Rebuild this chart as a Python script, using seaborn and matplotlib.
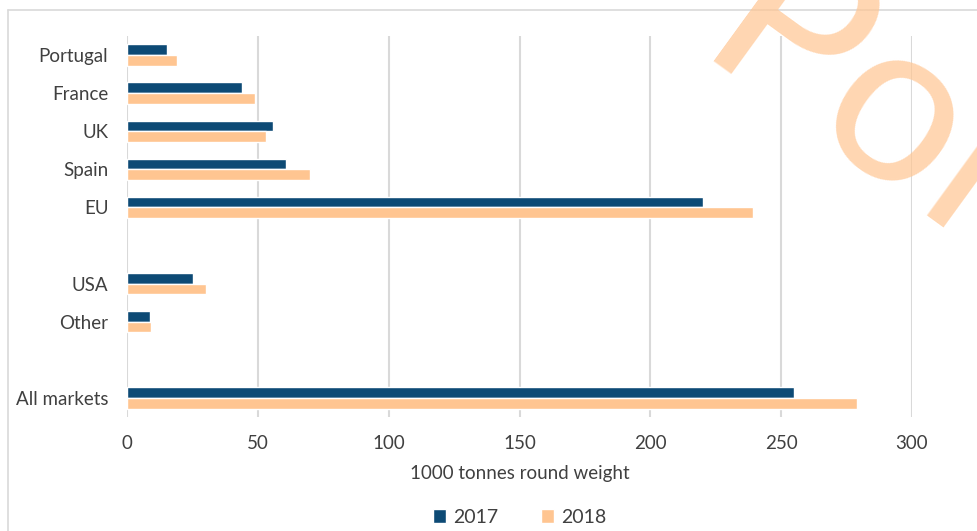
import matplotlib
matplotlib.use("Agg")
import matplotlib.pyplot as plt
from matplotlib.lines import Line2D
import seaborn as sns
import pandas as pd

# values in 1000 tonnes round weight
markets = ["Portugal", "France", "UK", "Spain", "EU", "USA", "Other", "All markets"]
values_2017 = [15.2, 43.9, 55.9, 60.8, 220.3, 25.2, 8.9, 254.8]
values_2018 = [19.1, 49.0, 53.1, 70.0, 239.1, 30.3, 9.3, 278.9]
years = ["2017", "2018"]
# blank rows separate the groups
order = ["Portugal", "France", "UK", "Spain", "EU", "", "USA", "Other", " ", "All markets"]
xticks = [0, 50, 100, 150, 200, 250, 300]

df = pd.DataFrame({
    "market": markets * 2,
    "value": values_2017 + values_2018,
    "year": [years[0]] * len(markets) + [years[1]] * len(markets),
})

sns.set_style("white")
plt.rcParams["font.family"] = ["Lato", "DejaVu Sans"]
text_col = "#404040"

fig = plt.figure(figsize=(9.78, 5.31), dpi=100)
ax = fig.add_axes([127 / 978, 1 - 417 / 531, (912 - 127) / 978, (417 - 36) / 531])

sns.barplot(data=df, y="market", x="value", hue="year", order=order,
            orient="h", palette=["#0d4a75", "#ffc591"], width=0.56,
            saturation=1, ax=ax, zorder=3)

ax.set_xlim(0, 300)
ax.set_ylim(len(order) - 0.5, -0.5)
ax.set_xticks(xticks)
ax.xaxis.grid(True, color="#d9d9d9", lw=1.5, zorder=0)
ax.yaxis.grid(False)
for s in ax.spines.values():
    s.set_visible(False)
ax.tick_params(axis="both", length=0, labelsize=13.5, labelcolor=text_col)
ax.tick_params(axis="x", pad=13)
ax.tick_params(axis="y", pad=13.5)
ax.set_ylabel("")
ax.set_xlabel("1000 tonnes round weight", fontsize=13.5, color=text_col, labelpad=9)

ax.legend(loc="upper center", bbox_to_anchor=(0.5, -0.195), ncol=2, frameon=False,
          fontsize=14, labelcolor=text_col, handlelength=0.7, handleheight=0.7,
          handletextpad=0.35, columnspacing=2.2)

# watermark
fig.text(692 / 978, 1 - 60 / 531, "Pol", fontsize=165, color="#ffc591", alpha=0.7,
         rotation=-36, rotation_mode="anchor", ha="left", va="baseline", zorder=5)

# outer frame
fig.add_artist(Line2D([8 / 978, 1.0], [1 - 10 / 531] * 2, color="#d9d9d9", lw=1.2))
fig.add_artist(Line2D([8 / 978] * 2, [0.0, 1 - 10 / 531], color="#d9d9d9", lw=1.2))

fig.savefig("out.png", dpi=100)
